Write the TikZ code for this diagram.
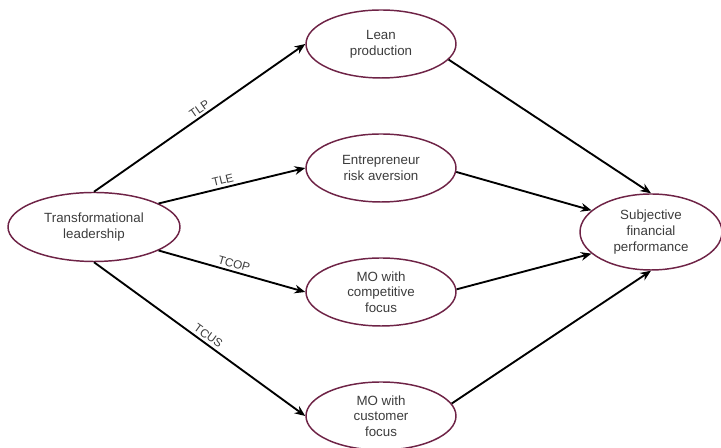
\documentclass[tikz,border=0pt]{standalone}
\usepackage{fontspec}
\setmainfont{Liberation Sans}
\usepackage{tikz}
\usetikzlibrary{shapes.geometric,arrows.meta}
\definecolor{rim}{HTML}{6E2346}
\definecolor{ink}{HTML}{3C3C3C}

\begin{document}
\begin{tikzpicture}[x=0.75pt,y=0.75pt,
        var/.style={draw=rim, line width=1.1pt, ellipse, inner sep=0pt,
            minimum width=112.5pt, minimum height=51pt, align=center,
            text=ink, font=\fontsize{10}{11.8}\selectfont},
        link/.style={-{Stealth[length=8pt,width=6.5pt]}, line width=1.4pt},
        coef/.style={sloped, above, inner sep=2pt, text=ink,
            font=\fontsize{8.8}{10}\selectfont}]
        \useasboundingbox (0,0) rectangle (721,448);
        \node[var, minimum width=129pt, minimum height=51.75pt] (tl) at (94,221) {Transformational\\leadership};
        \node[var] (lean) at (381,404) {Lean\\production};
        \node[var] (risk) at (381,280) {Entrepreneur\\risk aversion};
        \node[var] (comp) at (381,156) {MO with\\competitive\\focus};
        \node[var] (cust) at (381,32) {MO with\\customer\\focus};
        \node[var, minimum width=106.5pt, minimum height=57pt] (sfp) at (651,216) {Subjective\\financial\\performance};
        \draw[link] (tl.north) -- node[coef, pos=0.52] {TLP} (lean.west);
        \draw[link] (tl.20) -- node[coef, pos=0.45] {TLE} (risk.west);
        \draw[link] (tl.-20) -- node[coef, pos=0.5] {TCOP} (comp.west);
        \draw[link] (tl.south) -- node[coef, pos=0.52] {TCUS} (cust.west);
        \draw[link] (lean.-13) -- (sfp.north);
        \draw[link] (risk.-3) -- (sfp.160);
        \draw[link] (comp.2) -- (sfp.200);
        \draw[link] (cust.10) -- (sfp.south);
    \end{tikzpicture}
\end{document}
